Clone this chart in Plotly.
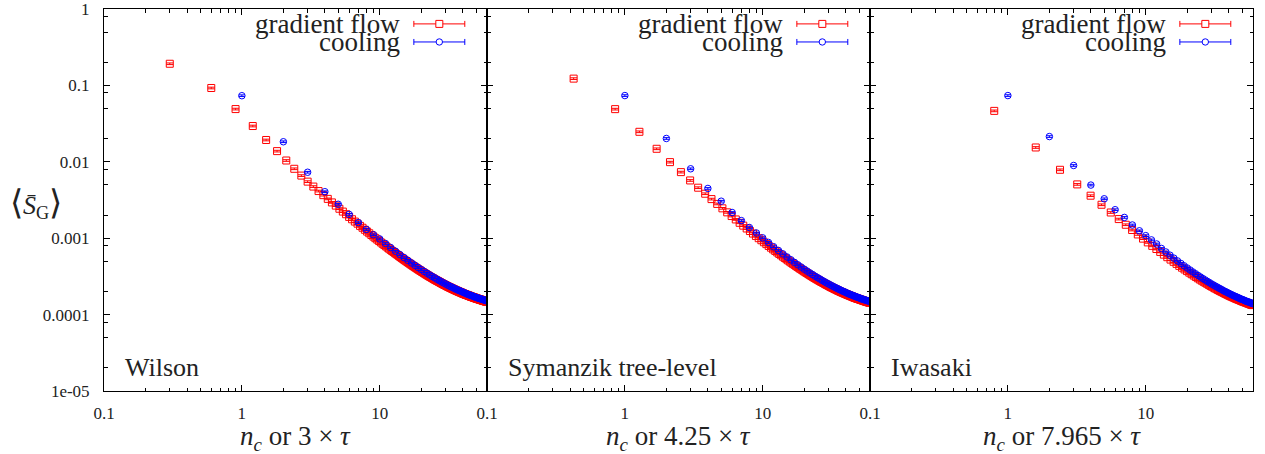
import numpy as np
import plotly.graph_objects as go

# ---------------- data (values in units of 1e-6) ----------------
tau_step = 0.1
n_cool = list(range(1, 61))

wilson_gf = [192000, 92500, 49000, 29400, 19300, 13800, 10400, 8100, 6600, 5500,
             4740, 4140, 3660, 3270, 2940, 2670, 2430, 2230, 2060, 1900,
             1770, 1650, 1550, 1450, 1370, 1290, 1220, 1160, 1100, 1050,
             1000, 958, 918, 880, 845, 813, 783, 754, 728, 703,
             680, 659, 638, 619, 601, 584, 568, 552, 538, 524,
             511, 499, 487, 476, 465, 455, 445, 435, 427, 418,
             410, 402, 394, 387, 380, 374, 367, 361, 355, 349,
             344, 338, 333, 328, 323, 319, 314, 310, 306, 302,
             298, 294, 290, 287, 283, 280, 277, 274, 271, 268,
             265, 262, 259, 256, 254, 251, 249, 246, 244, 242,
             240, 237, 235, 233, 231, 229, 227, 226, 224, 222,
             220, 219, 217, 215, 214, 212, 211, 209, 208, 206,
             205, 204, 202, 201, 200, 198, 197, 196, 195, 194,
             193, 191, 190, 189, 188, 187, 186, 185, 184, 183,
             182, 181, 181, 180, 179, 178, 177, 176, 176, 175,
             174, 173, 172, 172, 171, 170, 170, 169, 168, 168,
             167, 166, 166, 165, 164, 164, 163, 163, 162, 161,
             161, 160, 160, 159, 159, 158, 158, 157, 157, 156,
             156, 155, 155, 154, 154, 153, 153, 152, 152, 151,
             151, 151, 150, 150, 149, 149, 149, 148, 148, 148]
wilson_cool = [73300, 18300, 7300, 4060, 2780, 2050, 1600, 1300, 1110, 977,
               852, 754, 675, 610, 557, 512, 474, 441, 413, 389,
               367, 348, 331, 316, 303, 290, 279, 269, 260, 252,
               244, 237, 231, 225, 219, 214, 209, 205, 201, 197,
               193, 190, 186, 183, 180, 178, 175, 173, 170, 168,
               166, 164, 162, 161, 159, 157, 156, 154, 153, 151]
symanzik_gf = [122700, 48900, 24700, 14800, 9900, 7330, 5700,
               4580, 3820, 3250, 2810, 2460, 2180, 1950, 1760, 1590, 1460,
               1340, 1240, 1150, 1070, 1000, 940, 885, 836, 791, 751,
               714, 681, 650, 622, 597, 573, 551, 530, 511, 494,
               477, 462, 448, 434, 421, 410, 398, 388, 378, 368,
               359, 351, 343, 335, 328, 321, 314, 308, 302, 296,
               291, 286, 281, 276, 271, 267, 263, 259, 255, 251,
               247, 244, 241, 237, 234, 231, 228, 226, 223, 220,
               218, 215, 213, 211, 208, 206, 204, 202, 200, 198,
               196, 195, 193, 191, 190, 188, 186, 185, 183, 182,
               181, 179, 178, 177, 175, 174, 173, 172, 171, 169,
               168, 167, 166, 165, 164, 163, 162, 161, 161, 160,
               159, 158, 157, 156, 156, 155, 154, 153, 153, 152,
               151, 150, 150, 149, 148, 148, 147, 147, 146, 145,
               145, 144, 144, 143]
symanzik_cool = [73600, 20200, 8100, 4480, 3050, 2170, 1700, 1380, 1170, 1010,
                 880, 773, 691, 624, 568, 522, 482, 448, 419, 393,
                 371, 351, 334, 318, 304, 292, 280, 270, 260, 252,
                 244, 237, 230, 224, 218, 213, 208, 203, 199, 195,
                 191, 187, 184, 181, 178, 175, 173, 170, 168, 166,
                 163, 161, 159, 158, 156, 154, 153, 151, 150, 148]
iwasaki_gf = [46400, 15400, 7860, 5060, 3600, 2740, 2170, 1780, 1500, 1280,
              1120, 987, 881, 794, 722, 661, 609, 564, 525, 491,
              461, 434, 411, 390, 371, 354, 338, 324, 311, 299,
              288, 278, 269, 261, 253, 245, 238, 232, 226, 220,
              215, 210, 205, 201, 197, 193, 189, 186, 182, 179,
              176, 173, 171, 168, 166, 163, 161, 159, 157, 155,
              153, 151, 149, 148, 146, 145, 143, 142, 140, 139,
              138, 136, 135, 134, 133]
iwasaki_cool = [73600, 21400, 8950, 4960, 3280, 2360, 1870, 1490, 1250, 1080,
                950, 840, 734, 660, 599, 548, 504, 467, 435, 407,
                383, 361, 342, 325, 310, 296, 284, 272, 262, 252,
                244, 236, 229, 222, 216, 210, 204, 199, 195, 190,
                186, 182, 178, 175, 172, 169, 166, 163, 160, 158,
                156, 153, 151, 149, 147, 146, 144, 142, 141, 139]

actions = ["Wilson", "Symanzik tree-level", "Iwasaki"]
factors = ["3", "4.25", "7.965"]
x_tick_vals = [0.1, 1, 10]
x_tick_text = ["0.1", "1", "10"]
y_tick_vals = [1e-5, 1e-4, 1e-3, 1e-2, 1e-1, 1]
y_tick_text = ["1e-05", "0.0001", "0.001", "0.01", "0.1", "1"]
legend_labels = ["gradient flow", "cooling"]

# ---------------- figure ----------------
FONT = "Liberation Serif"
TXT = "#222222"
UNIT = 1e-6
fig = go.Figure()
series = [(wilson_gf, wilson_cool), (symanzik_gf, symanzik_cool), (iwasaki_gf, iwasaki_cool)]
for i, (gf, cool) in enumerate(series):
    xa = "x" if i == 0 else "x%d" % (i + 1)
    ya = "y" if i == 0 else "y%d" % (i + 1)
    fac = float(factors[i])
    x_gf = [fac * tau_step * (k + 1) for k in range(len(gf))]
    fig.add_trace(go.Scatter(
        x=x_gf, y=[v * UNIT for v in gf], mode="markers", xaxis=xa, yaxis=ya, showlegend=False,
        marker=dict(symbol="square-open", size=7, color="red", line=dict(width=1)),
        error_y=dict(type="percent", value=2.5, color="red", thickness=1, width=3.5)))
    fig.add_trace(go.Scatter(
        x=n_cool, y=[v * UNIT for v in cool], mode="markers", xaxis=xa, yaxis=ya, showlegend=False,
        marker=dict(symbol="circle-open", size=6.5, color="blue", line=dict(width=1)),
        error_y=dict(type="percent", value=2.5, color="blue", thickness=1, width=3)))

xminor = [m * 10.0 ** k for k in (-1, 0, 1) for m in range(2, 10)]
yminor = [m * 10.0 ** k for k in range(-5, 0) for m in (2, 5, 8)]
tickfont = dict(family=FONT, size=17, color=TXT)
for i in range(3):
    sx = "" if i == 0 else str(i + 1)
    xa = "x" + sx
    ya = "y" + sx
    fig.layout["xaxis" + sx] = dict(
        type="log", range=[-1, np.log10(60)], domain=[i / 3, (i + 1) / 3], anchor=ya,
        automargin=False, ticklabeloverflow="allow",
        showline=True, linecolor="black", linewidth=1, mirror="ticks", ticks="inside", ticklen=6,
        tickcolor="black", tickmode="array", tickvals=x_tick_vals, ticktext=x_tick_text,
        minor=dict(ticks="inside", ticklen=3.5, tickcolor="black", tickmode="array",
                   tickvals=xminor, showgrid=False),
        showgrid=False, zeroline=False, ticklabelstandoff=7, tickfont=tickfont)
    fig.layout["yaxis" + sx] = dict(
        type="log", range=[-5.0001, 0.0001], anchor=xa, automargin=False, ticklabeloverflow="allow",
        showline=True, linecolor="black", linewidth=1, mirror="ticks", ticks="inside", ticklen=6,
        tickcolor="black", tickmode="array", tickvals=y_tick_vals, ticktext=y_tick_text,
        minor=dict(ticks="inside", ticklen=3.5, tickcolor="black", tickmode="array",
                   tickvals=yminor, showgrid=False),
        showgrid=False, zeroline=False, showticklabels=(i == 0), ticklabelstandoff=10,
        tickfont=tickfont)

anns = []
shapes = []
for i in range(3):
    sx = "" if i == 0 else str(i + 1)
    xd = "x" + sx + " domain"
    yd = "y" + sx + " domain"
    anns.append(dict(xref=xd, yref=yd, x=0.05, y=0.062, text=actions[i], showarrow=False,
                     xanchor="left", yanchor="middle", font=dict(family=FONT, size=26, color=TXT)))
    anns.append(dict(xref=xd, yref="paper", x=0.5, y=0, yshift=-47, showarrow=False,
                     xanchor="center", yanchor="middle",
                     text="<i>n</i><sub><i>c</i></sub> or " + factors[i] + " × <i>τ</i>",
                     font=dict(family=FONT, size=27, color=TXT)))
    for row, (lab, col, sym) in enumerate(zip(legend_labels, ["red", "blue"], ["rect", "circle"])):
        yy = 0.961 if row == 0 else 0.9137
        anns.append(dict(xref=xd, yref=yd, x=0.779, y=yy, text=lab, showarrow=False,
                         xanchor="right", yanchor="middle", font=dict(family=FONT, size=27, color=TXT)))
        shapes.append(dict(type="line", xref=xd, yref=yd, x0=0.809, x1=0.942, y0=yy, y1=yy,
                           line=dict(color=col, width=1)))
        for xe in (0.809, 0.942):
            shapes.append(dict(type="line", xref=xd, yref=yd, xsizemode="pixel", ysizemode="pixel",
                               xanchor=xe, yanchor=yy, x0=0, x1=0, y0=-3, y1=3,
                               line=dict(color=col, width=1)))
        r = 3.5 if sym == "rect" else 3.2
        shapes.append(dict(type=sym, xref=xd, yref=yd, xsizemode="pixel", ysizemode="pixel",
                           xanchor=0.8755, yanchor=yy, x0=-r, x1=r, y0=-r, y1=r,
                           line=dict(color=col, width=1), fillcolor="white"))
anns.append(dict(xref="paper", yref="paper", x=-0.0595, y=0.49, showarrow=False,
                 xanchor="center", yanchor="middle",
                 text='<span style="font-size:34px">⟨</span><i>S̄</i><sub>G</sub>'
                      '<span style="font-size:34px">⟩</span>',
                 font=dict(family=FONT, size=26, color=TXT)))

fig.update_layout(width=1265, height=454, margin=dict(l=104, r=12, t=9, b=63, autoexpand=False),
                  plot_bgcolor="white", paper_bgcolor="white", annotations=anns, shapes=shapes)
fig.write_html("out.html", config={"displayModeBar": False},
               post_script="document.body.style.margin='0';document.body.style.overflow='hidden';")
